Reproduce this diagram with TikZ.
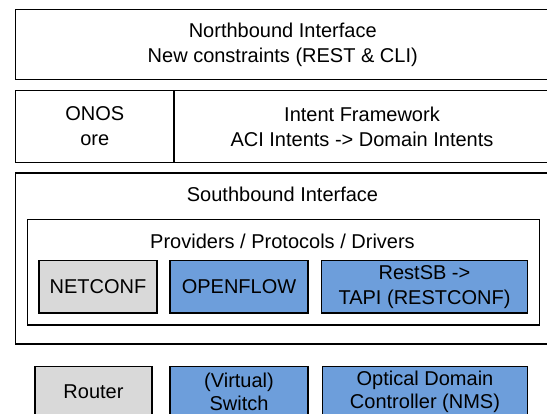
\documentclass[tikz,border=0pt]{standalone}
\usepackage{fontspec}
\setmainfont{Liberation Sans}
\definecolor{drvblue}{RGB}{109,158,219}
\definecolor{drvgray}{RGB}{217,217,217}

\begin{document}
\begin{tikzpicture}[
  x=1pt, y=-1pt,
  every node/.style={font=\fontsize{20}{25}\selectfont,align=center,inner sep=0pt},
  layer/.style 2 args={draw,line width=1.3pt,minimum width=#1,minimum height=#2},
  gray box/.style={fill=drvgray},
  blue box/.style={fill=drvblue},
  device/.style={font=\fontsize{20}{23}\selectfont},
  ]
  \useasboundingbox (0,0) rectangle (547,414);
  \clip (0,0) rectangle (547,414);
  % controller layers
  \node[layer={534.5}{70}] (nbi) at (282.75,44.5)
    {Northbound Interface\\New constraints (REST \& CLI)};
  \node[layer={158.5}{72}] (core) at (94.75,126.5) {ONOS\\ore};
  \node[layer={376}{72}] (intent) at (362,126.5)
    {Intent Framework\\ACI Intents -> Domain Intents};
  \node[layer={534.5}{171}] (sbi) at (282.75,258.5) {};
  \node (sbilabel) at (282.5,194) {Southbound Interface};
  \node[layer={512}{105.5}] (prov) at (283.5,272.25) {};
  \node (provlabel) at (282.5,241) {Providers / Protocols / Drivers};
  % drivers
  \node[layer={118}{52.5},gray box] (netconf) at (98,286.75) {NETCONF};
  \node[layer={138}{52.5},blue box] (openflow) at (239,286.75) {OPENFLOW};
  \node[layer={206}{52.5},blue box] (restsb) at (424.5,286.75)
    {RestSB ->\\TAPI (RESTCONF)};
  % devices
  \node[layer={117}{51},gray box,device] (router) at (93.5,392) {Router};
  \node[layer={138}{51},blue box,device] (vswitch) at (239,392) {(Virtual)\\Switch};
  \node[layer={205}{51},blue box,device] (odc) at (425,392)
    {Optical Domain\\Controller (NMS)};
\end{tikzpicture}
\end{document}
